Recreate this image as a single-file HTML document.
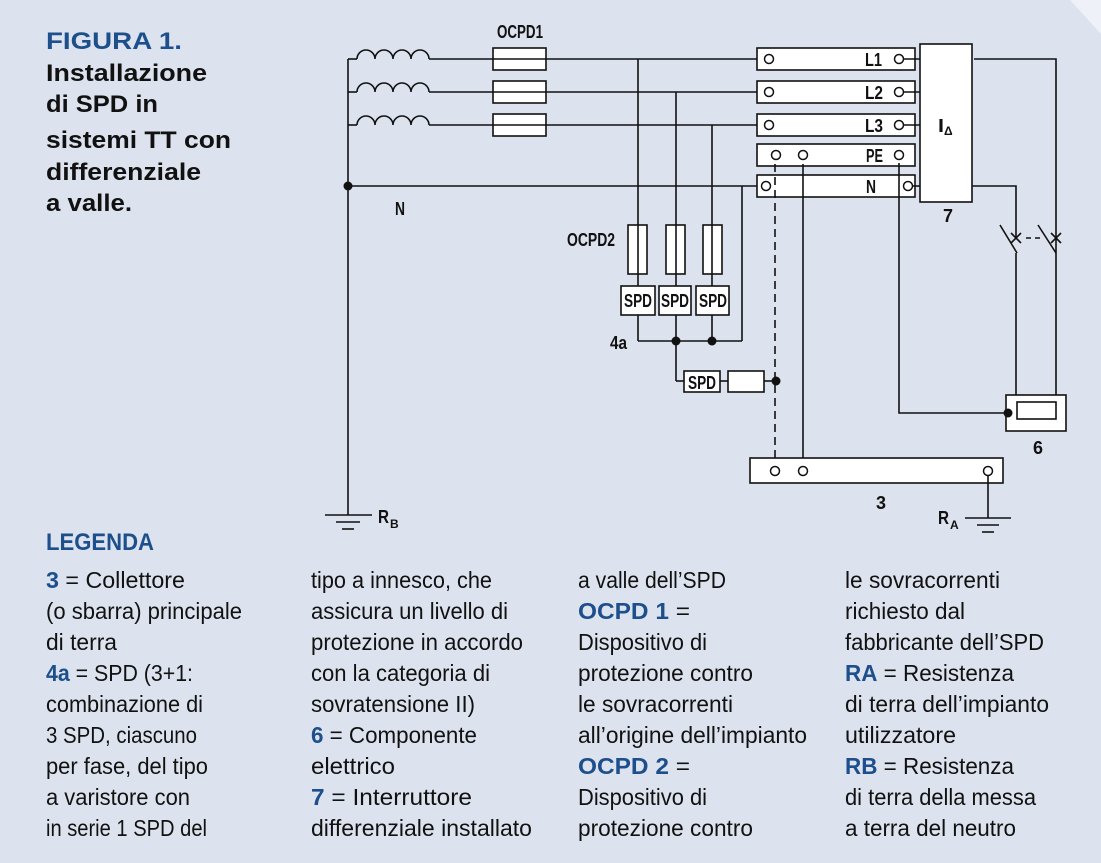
<!DOCTYPE html>
<html><head><meta charset="utf-8"><style>
html,body{margin:0;padding:0;background:#dde3ee;}
svg{display:block}
.t{font-family:"Liberation Sans",sans-serif;font-weight:bold;fill:#111}
.lg{font-family:"Liberation Sans",sans-serif;font-size:23px;fill:#111}
.b{fill:#1c4f8c;font-family:"Liberation Sans",sans-serif;font-weight:bold}
.lb{font-family:"Liberation Sans",sans-serif;font-weight:bold;fill:#111}
</style></head><body>
<svg width="1101" height="863" viewBox="0 0 1101 863" xmlns="http://www.w3.org/2000/svg">
<rect width="1101" height="863" fill="#dde3ee"/>
<polygon points="1070,0 1101,0 1101,34" fill="#eef1f7"/>
<g class="t" font-size="24">
<text x="46" y="49" textLength="136" lengthAdjust="spacingAndGlyphs" fill="#1c4f8c">FIGURA 1.</text>
<text x="46" y="81" textLength="161" lengthAdjust="spacingAndGlyphs">Installazione</text>
<text x="46" y="112" textLength="112" lengthAdjust="spacingAndGlyphs">di SPD in</text>
<text x="46" y="148" textLength="185" lengthAdjust="spacingAndGlyphs">sistemi TT con</text>
<text x="46" y="180" textLength="155" lengthAdjust="spacingAndGlyphs">differenziale</text>
<text x="46" y="211" textLength="86" lengthAdjust="spacingAndGlyphs">a valle.</text>
<text x="46" y="550" textLength="108" lengthAdjust="spacingAndGlyphs" fill="#1c4f8c">LEGENDA</text>
</g>
<g class="lg">
<text x="46" y="588" textLength="139" lengthAdjust="spacingAndGlyphs"><tspan class="b">3</tspan> = Collettore</text>
<text x="46" y="619" textLength="196" lengthAdjust="spacingAndGlyphs">(o sbarra) principale</text>
<text x="46" y="650" textLength="71" lengthAdjust="spacingAndGlyphs">di terra</text>
<text x="46" y="681" textLength="147" lengthAdjust="spacingAndGlyphs"><tspan class="b">4a</tspan> = SPD (3+1:</text>
<text x="46" y="712" textLength="157" lengthAdjust="spacingAndGlyphs">combinazione di</text>
<text x="46" y="743" textLength="151" lengthAdjust="spacingAndGlyphs">3 SPD, ciascuno</text>
<text x="46" y="774" textLength="162" lengthAdjust="spacingAndGlyphs">per fase, del tipo</text>
<text x="46" y="805" textLength="144" lengthAdjust="spacingAndGlyphs">a varistore con</text>
<text x="46" y="836" textLength="161" lengthAdjust="spacingAndGlyphs">in serie 1 SPD del</text>

<text x="311" y="588" textLength="181" lengthAdjust="spacingAndGlyphs">tipo a innesco, che</text>
<text x="311" y="619" textLength="197" lengthAdjust="spacingAndGlyphs">assicura un livello di</text>
<text x="311" y="650" textLength="212" lengthAdjust="spacingAndGlyphs">protezione in accordo</text>
<text x="311" y="681" textLength="179" lengthAdjust="spacingAndGlyphs">con la categoria di</text>
<text x="311" y="712" textLength="164" lengthAdjust="spacingAndGlyphs">sovratensione II)</text>
<text x="311" y="743" textLength="166" lengthAdjust="spacingAndGlyphs"><tspan class="b">6</tspan> = Componente</text>
<text x="311" y="774" textLength="84" lengthAdjust="spacingAndGlyphs">elettrico</text>
<text x="311" y="805" textLength="161" lengthAdjust="spacingAndGlyphs"><tspan class="b">7</tspan> = Interruttore</text>
<text x="311" y="836" textLength="221" lengthAdjust="spacingAndGlyphs">differenziale installato</text>

<text x="578" y="588" textLength="148" lengthAdjust="spacingAndGlyphs">a valle dell’SPD</text>
<text x="578" y="619" textLength="112" lengthAdjust="spacingAndGlyphs"><tspan class="b">OCPD 1</tspan> =</text>
<text x="578" y="650" textLength="129" lengthAdjust="spacingAndGlyphs">Dispositivo di</text>
<text x="578" y="681" textLength="175" lengthAdjust="spacingAndGlyphs">protezione contro</text>
<text x="578" y="712" textLength="155" lengthAdjust="spacingAndGlyphs">le sovracorrenti</text>
<text x="578" y="743" textLength="229" lengthAdjust="spacingAndGlyphs">all’origine dell’impianto</text>
<text x="578" y="774" textLength="112" lengthAdjust="spacingAndGlyphs"><tspan class="b">OCPD 2</tspan> =</text>
<text x="578" y="805" textLength="129" lengthAdjust="spacingAndGlyphs">Dispositivo di</text>
<text x="578" y="836" textLength="175" lengthAdjust="spacingAndGlyphs">protezione contro</text>

<text x="845" y="588" textLength="155" lengthAdjust="spacingAndGlyphs">le sovracorrenti</text>
<text x="845" y="619" textLength="120" lengthAdjust="spacingAndGlyphs">richiesto dal</text>
<text x="845" y="650" textLength="199" lengthAdjust="spacingAndGlyphs">fabbricante dell’SPD</text>
<text x="845" y="681" textLength="169" lengthAdjust="spacingAndGlyphs"><tspan class="b">RA</tspan> = Resistenza</text>
<text x="845" y="712" textLength="204" lengthAdjust="spacingAndGlyphs">di terra dell’impianto</text>
<text x="845" y="743" textLength="111" lengthAdjust="spacingAndGlyphs">utilizzatore</text>
<text x="845" y="774" textLength="169" lengthAdjust="spacingAndGlyphs"><tspan class="b">RB</tspan> = Resistenza</text>
<text x="845" y="805" textLength="191" lengthAdjust="spacingAndGlyphs">di terra della messa</text>
<text x="845" y="836" textLength="171" lengthAdjust="spacingAndGlyphs">a terra del neutro</text>
</g>

<g stroke="#111" stroke-width="1.6" fill="none">
<line x1="348" y1="59" x2="348" y2="515"/>
<line x1="348" y1="59" x2="357" y2="59"/><line x1="348" y1="92" x2="357" y2="92"/><line x1="348" y1="125" x2="357" y2="125"/>
<path d="M357 59 a9 9 0 0 1 18 0 a9 9 0 0 1 18 0 a9 9 0 0 1 18 0 a9 9 0 0 1 18 0"/>
<path d="M357 92 a9 9 0 0 1 18 0 a9 9 0 0 1 18 0 a9 9 0 0 1 18 0 a9 9 0 0 1 18 0"/>
<path d="M357 125 a9 9 0 0 1 18 0 a9 9 0 0 1 18 0 a9 9 0 0 1 18 0 a9 9 0 0 1 18 0"/>
<line x1="429" y1="59" x2="765" y2="59"/>
<line x1="429" y1="92" x2="765" y2="92"/>
<line x1="429" y1="125" x2="765" y2="125"/>
<line x1="348" y1="186" x2="761" y2="186"/>
<rect x="493" y="48" width="53" height="22" fill="#fff"/><line x1="493" y1="59" x2="546" y2="59"/>
<rect x="493" y="81" width="53" height="22" fill="#fff"/><line x1="493" y1="92" x2="546" y2="92"/>
<rect x="493" y="114" width="53" height="22" fill="#fff"/><line x1="493" y1="125" x2="546" y2="125"/>
<line x1="638" y1="59" x2="638" y2="341"/>
<line x1="676" y1="92" x2="676" y2="381"/>
<line x1="712" y1="125" x2="712" y2="341"/>
<line x1="742" y1="186" x2="742" y2="341"/>
<line x1="638" y1="341" x2="742" y2="341"/>
<rect x="628" y="225" width="19" height="49" fill="#fff"/><line x1="638" y1="225" x2="638" y2="274"/>
<rect x="666" y="225" width="19" height="49" fill="#fff"/><line x1="676" y1="225" x2="676" y2="274"/>
<rect x="703" y="225" width="19" height="49" fill="#fff"/><line x1="712" y1="225" x2="712" y2="274"/>
<rect x="621" y="286" width="34" height="29" fill="#fff"/>
<rect x="659" y="286" width="32" height="29" fill="#fff"/>
<rect x="696" y="286" width="33" height="29" fill="#fff"/>
<line x1="676" y1="381" x2="684" y2="381"/>
<rect x="684" y="371" width="36" height="21" fill="#fff"/>
<line x1="720" y1="381" x2="728" y2="381"/>
<rect x="728" y="371" width="36" height="21" fill="#fff"/>
<line x1="764" y1="381" x2="776" y2="381"/>
<rect x="757" y="48" width="158" height="22" fill="#fff"/>
<rect x="757" y="81" width="158" height="22" fill="#fff"/>
<rect x="757" y="114" width="158" height="22" fill="#fff"/>
<rect x="757" y="144" width="158" height="22" fill="#fff"/>
<rect x="757" y="175" width="158" height="22" fill="#fff"/>
<line x1="903" y1="59" x2="920" y2="59"/><line x1="903" y1="92" x2="920" y2="92"/><line x1="903" y1="125" x2="920" y2="125"/>
<line x1="912" y1="186" x2="920" y2="186"/>
<rect x="920" y="44" width="52" height="158" fill="#fff"/>
<polyline points="974,59 1056,59 1056,402"/>
<polyline points="972,186 1016,186 1016,238"/>
<line x1="1000" y1="225" x2="1017" y2="253"/>
<line x1="1016" y1="253" x2="1016" y2="402"/>
<line x1="1038" y1="225" x2="1056" y2="253"/>
<line x1="1011" y1="233" x2="1021" y2="243"/><line x1="1021" y1="233" x2="1011" y2="243"/>
<line x1="1051" y1="233" x2="1061" y2="243"/><line x1="1061" y1="233" x2="1051" y2="243"/>
<line x1="1026" y1="238" x2="1040" y2="238" stroke-dasharray="5,4"/>
<rect x="1006" y="395" width="60" height="36" fill="#fff"/>
<rect x="1017" y="402" width="39" height="17" fill="#fff"/>
<polyline points="899,163 899,413 1008,413"/>
<line x1="775" y1="164" x2="775" y2="467" stroke-dasharray="8,5"/>
<line x1="803" y1="164" x2="803" y2="467"/>
<rect x="750" y="458" width="253" height="25" fill="#fff"/>
<line x1="988" y1="475" x2="988" y2="518"/>
<line x1="965" y1="518" x2="1011" y2="518"/>
<line x1="977" y1="525" x2="999" y2="525"/>
<line x1="982" y1="532" x2="994" y2="532"/>
<line x1="325" y1="515" x2="372" y2="515"/>
<line x1="336" y1="522" x2="360" y2="522"/>
<line x1="342" y1="529" x2="354" y2="529"/>
</g>
<g stroke="#111" stroke-width="1.5" fill="#fff">
<circle cx="769" cy="59" r="4.5"/><circle cx="769" cy="92" r="4.5"/><circle cx="769" cy="125" r="4.5"/>
<circle cx="899" cy="59" r="4.5"/><circle cx="899" cy="92" r="4.5"/><circle cx="899" cy="125" r="4.5"/>
<circle cx="776" cy="155" r="4.5"/><circle cx="803" cy="155" r="4.5"/><circle cx="899" cy="155" r="4.5"/>
<circle cx="766" cy="186" r="4.5"/><circle cx="908" cy="186" r="4.5"/>
<circle cx="775" cy="471" r="4.5"/><circle cx="803" cy="471" r="4.5"/><circle cx="988" cy="471" r="4.5"/>
</g>
<g fill="#111">
<circle cx="348" cy="186" r="4.5"/><circle cx="676" cy="341" r="4.5"/><circle cx="712" cy="341" r="4.5"/>
<circle cx="776" cy="381" r="4.5"/><circle cx="1008" cy="413" r="4.5"/>
</g>
<g class="lb" font-size="18">
<text x="497" y="38" textLength="46" lengthAdjust="spacingAndGlyphs">OCPD1</text>
<text x="865" y="66" textLength="17" lengthAdjust="spacingAndGlyphs">L1</text>
<text x="865" y="99" textLength="18" lengthAdjust="spacingAndGlyphs">L2</text>
<text x="865" y="132" textLength="18" lengthAdjust="spacingAndGlyphs">L3</text>
<text x="866" y="162" textLength="17" lengthAdjust="spacingAndGlyphs">PE</text>
<text x="866" y="193" textLength="10" lengthAdjust="spacingAndGlyphs">N</text>
<text x="938" y="132" textLength="6" lengthAdjust="spacingAndGlyphs">I</text>
<text x="944" y="135" font-size="12">Δ</text>
<text x="943" y="222" textLength="10" lengthAdjust="spacingAndGlyphs">7</text>
<text x="395" y="215" textLength="10" lengthAdjust="spacingAndGlyphs">N</text>
<text x="567" y="246" textLength="48" lengthAdjust="spacingAndGlyphs">OCPD2</text>
<text x="610" y="349" textLength="17" lengthAdjust="spacingAndGlyphs">4a</text>
<text x="1033" y="454" textLength="10" lengthAdjust="spacingAndGlyphs">6</text>
<text x="876" y="509" textLength="10" lengthAdjust="spacingAndGlyphs">3</text>
<text x="378" y="523" textLength="11" lengthAdjust="spacingAndGlyphs">R</text><text x="390" y="528" font-size="12">B</text>
<text x="938" y="524" textLength="11" lengthAdjust="spacingAndGlyphs">R</text><text x="950" y="529" font-size="12">A</text>
<text x="624" y="307" textLength="28" lengthAdjust="spacingAndGlyphs">SPD</text>
<text x="661" y="307" textLength="28" lengthAdjust="spacingAndGlyphs">SPD</text>
<text x="699" y="307" textLength="28" lengthAdjust="spacingAndGlyphs">SPD</text>
<text x="688" y="389" textLength="28" lengthAdjust="spacingAndGlyphs">SPD</text>
</g>
</svg>
</body></html>
